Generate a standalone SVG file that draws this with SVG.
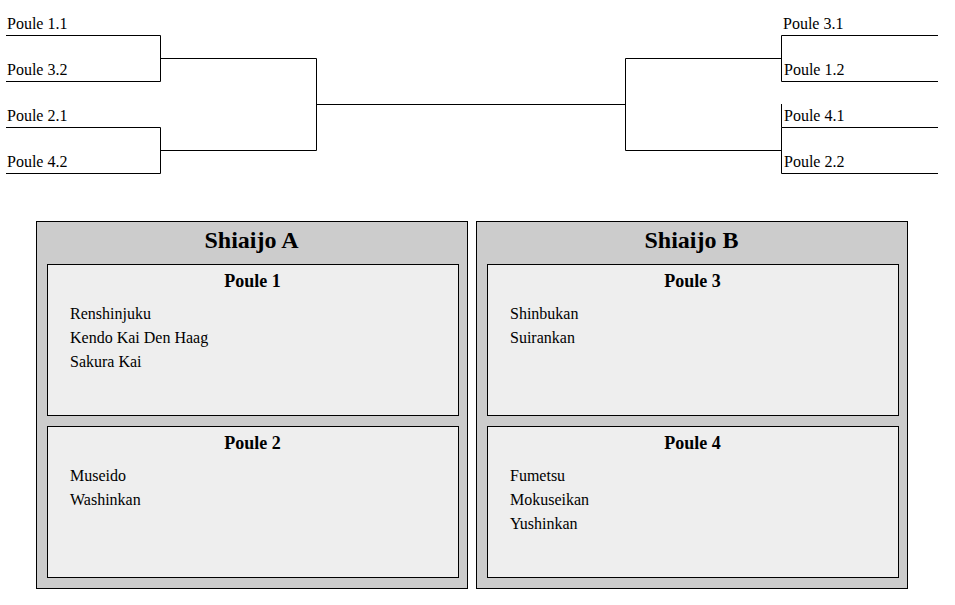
<svg xmlns="http://www.w3.org/2000/svg" width="955" height="605" viewBox="0 0 955 605">
<style>
.lbl{font-family:"Liberation Serif","Times New Roman",serif;font-size:16px;fill:#000}
.ttl{font-family:"Liberation Serif","Times New Roman",serif;font-size:24px;font-weight:bold;fill:#000;text-anchor:middle}
.pt{font-family:"Liberation Serif","Times New Roman",serif;font-size:18px;font-weight:bold;fill:#000;text-anchor:middle}
.ln{fill:none;stroke:#000;stroke-width:1}
.outer{fill:#cccccc;stroke:#000;stroke-width:1}
.inner{fill:#eeeeee;stroke:#000;stroke-width:1}
</style>
<rect width="955" height="605" fill="#fff"/>
<g id="connectors">
<path class="ln" d="M6 35.5H160.5V81.5H6M6 127.5H160.5V173.5H6M160.5 58.5H316.5V150.5H160.5M316.5 104.5H625.5M781.5 58.5H625.5V150.5H781.5M938 35.5H781.5V81.5H938M938 127.5H781.5V173.5M781.5 104V127.5M781.5 173.5H938"/>
</g>
<g id="bracket-left">
<text class="lbl" x="7" y="29">Poule 1.1</text>
<text class="lbl" x="7" y="75">Poule 3.2</text>
<text class="lbl" x="7" y="121">Poule 2.1</text>
<text class="lbl" x="7" y="167">Poule 4.2</text>
</g>
<g id="bracket-right">
<text class="lbl" x="783" y="29">Poule 3.1</text>
<text class="lbl" x="784" y="75">Poule 1.2</text>
<text class="lbl" x="784" y="121">Poule 4.1</text>
<text class="lbl" x="784" y="167">Poule 2.2</text>
</g>
<g id="shiaijo-a">
<rect class="outer" x="36.5" y="221.5" width="431" height="367"/>
<text class="ttl" x="251.5" y="248">Shiaijo A</text>
</g>
<g id="poule-1">
<rect class="inner" x="47.5" y="264.5" width="411" height="151"/>
<text class="pt" x="252.5" y="287">Poule 1</text>
<text class="lbl" x="70" y="319">Renshinjuku</text>
<text class="lbl" x="70" y="343">Kendo Kai Den Haag</text>
<text class="lbl" x="70" y="367">Sakura Kai</text>
</g>
<g id="poule-2">
<rect class="inner" x="47.5" y="426.5" width="411" height="151"/>
<text class="pt" x="252.5" y="449">Poule 2</text>
<text class="lbl" x="70" y="481">Museido</text>
<text class="lbl" x="70" y="505">Washinkan</text>
</g>
<g id="shiaijo-b">
<rect class="outer" x="476.5" y="221.5" width="431" height="367"/>
<text class="ttl" x="691.5" y="248">Shiaijo B</text>
</g>
<g id="poule-3">
<rect class="inner" x="487.5" y="264.5" width="411" height="151"/>
<text class="pt" x="692.5" y="287">Poule 3</text>
<text class="lbl" x="510" y="319">Shinbukan</text>
<text class="lbl" x="510" y="343">Suirankan</text>
</g>
<g id="poule-4">
<rect class="inner" x="487.5" y="426.5" width="411" height="151"/>
<text class="pt" x="692.5" y="449">Poule 4</text>
<text class="lbl" x="510" y="481">Fumetsu</text>
<text class="lbl" x="510" y="505">Mokuseikan</text>
<text class="lbl" x="510" y="529">Yushinkan</text>
</g>
</svg>
